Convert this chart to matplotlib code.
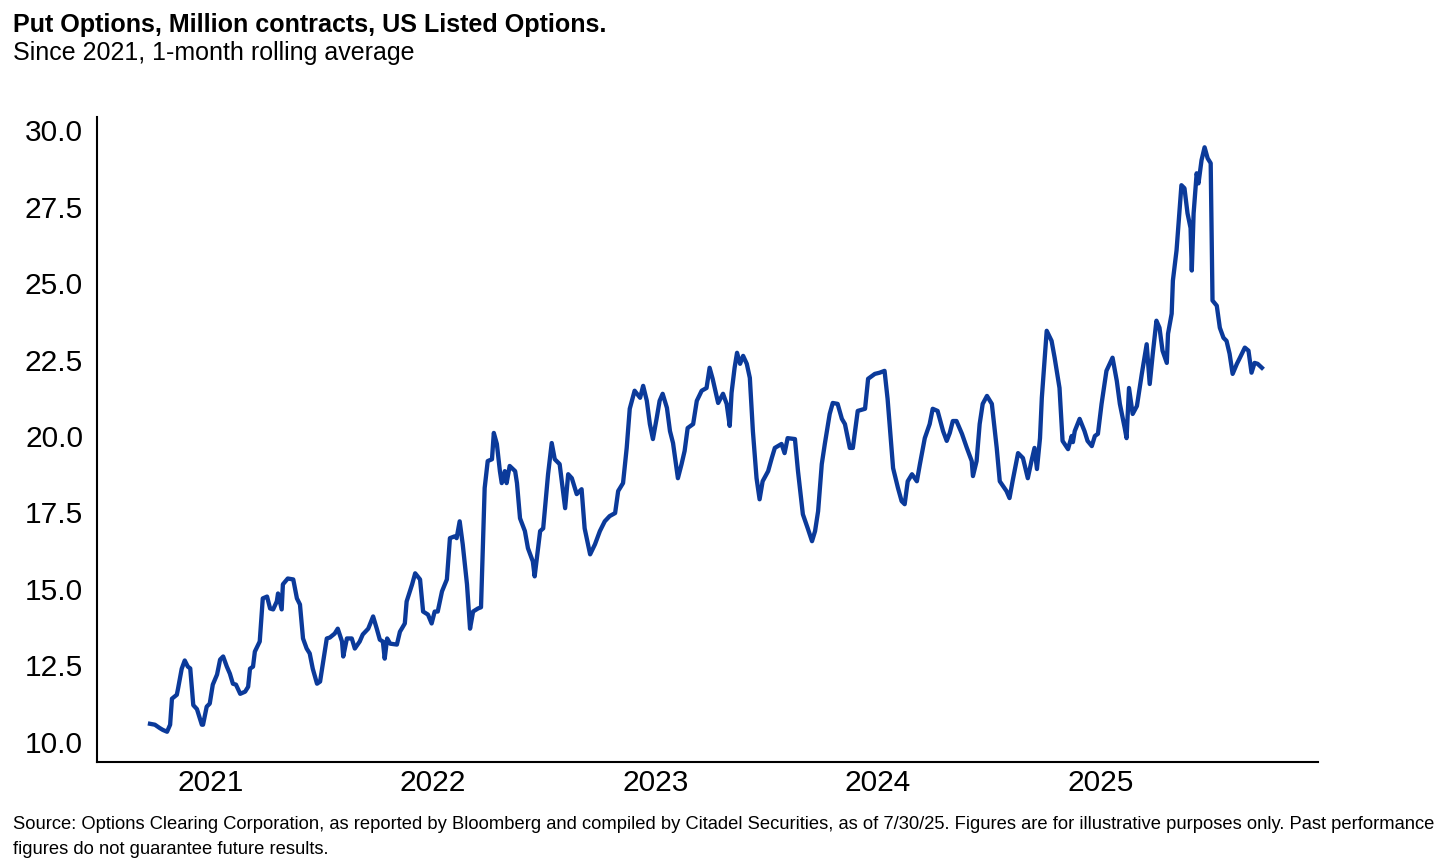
import numpy as np
import pandas as pd
import matplotlib
matplotlib.use("Agg")
import matplotlib.pyplot as plt
import matplotlib.dates as mdates

# days since first observation (2020-09-24) and 1-month rolling avg of put volume (mn contracts)
start_date = "2020-09-24"
days = [0, 8, 16, 21, 28, 33, 36, 44, 46, 52, 57, 62, 66, 71, 77, 85, 87, 93, 98, 103,
        110, 115, 120, 126, 131, 136, 141, 148, 156, 161, 164, 169, 172, 180, 185, 192, 197, 202, 208, 210,
        216, 218, 226, 235, 241, 246, 251, 257, 262, 267, 274, 279, 284, 290, 295, 303, 308, 315, 317, 323,
        331, 336, 344, 349, 358, 366, 372, 377, 382, 385, 389, 394, 405, 410, 418, 421, 430, 435, 443, 448,
        456, 462, 467, 472, 479, 487, 492, 500, 503, 508, 513, 520, 525, 530, 538, 543, 549, 554, 561, 564,
        569, 574, 577, 582, 585, 590, 599, 602, 607, 615, 620, 628, 631, 640, 645, 653, 659, 664, 672, 681,
        686, 692, 700, 708, 713, 722, 730, 738, 746, 754, 763, 768, 776, 782, 787, 795, 804, 809, 815, 820,
        825, 831, 836, 841, 848, 853, 858, 866, 872, 877, 882, 891, 897, 905, 913, 918, 923, 932, 940, 946,
        951, 954, 959, 963, 968, 973, 979, 984, 989, 995, 1000, 1005, 1014, 1020, 1025, 1036, 1041, 1046, 1058, 1063,
        1071, 1079, 1086, 1091, 1096, 1102, 1107, 1115, 1120, 1128, 1135, 1140, 1148, 1153, 1161, 1173, 1178, 1189, 1197, 1205,
        1210, 1219, 1227, 1233, 1238, 1243, 1250, 1258, 1263, 1271, 1279, 1284, 1292, 1301, 1307, 1312, 1317, 1323, 1332, 1340,
        1348, 1350, 1356, 1361, 1366, 1373, 1381, 1389, 1394, 1405, 1410, 1415, 1424, 1432, 1440, 1446, 1451, 1455, 1460, 1463,
        1471, 1479, 1484, 1492, 1497, 1506, 1512, 1514, 1517, 1525, 1533, 1538, 1545, 1550, 1555, 1561, 1569, 1579, 1586, 1591,
        1599, 1602, 1606, 1612, 1619, 1627, 1635, 1640, 1645, 1651, 1656, 1661, 1668, 1670, 1676, 1678, 1684, 1689, 1692, 1697,
        1702, 1707, 1709, 1712, 1717, 1720, 1725, 1730, 1735, 1740, 1743, 1750, 1755, 1761, 1766, 1771, 1776, 1783, 1788, 1796,
        1802, 1807, 1812, 1817, 1824]
puts = [10.59, 10.56, 10.45, 10.39, 10.33, 10.56, 11.41, 11.54, 11.74, 12.39, 12.66, 12.46, 12.40, 11.20, 11.07, 10.56, 10.56, 11.15, 11.25, 11.87,
        12.20, 12.69, 12.79, 12.46, 12.23, 11.90, 11.87, 11.57, 11.64, 11.80, 12.39, 12.46, 12.95, 13.28, 14.69, 14.75, 14.36, 14.33, 14.59, 14.85,
        14.33, 15.15, 15.34, 15.31, 14.69, 14.49, 13.38, 13.05, 12.89, 12.39, 11.90, 11.97, 12.62, 13.38, 13.41, 13.54, 13.70, 13.28, 12.79, 13.38,
        13.38, 13.05, 13.28, 13.51, 13.70, 14.10, 13.70, 13.34, 13.28, 12.72, 13.38, 13.21, 13.18, 13.60, 13.87, 14.59, 15.15, 15.51, 15.31, 14.26,
        14.16, 13.87, 14.26, 14.26, 14.92, 15.31, 16.66, 16.72, 16.66, 17.21, 16.46, 15.15, 13.70, 14.26, 14.36, 14.40, 18.30, 19.18, 19.24, 20.10,
        19.74, 18.85, 18.46, 18.85, 18.46, 19.02, 18.85, 18.46, 17.31, 16.89, 16.33, 15.90, 15.41, 16.89, 16.98, 18.75, 19.77, 19.24, 19.08, 17.64,
        18.75, 18.62, 18.10, 18.26, 16.98, 16.13, 16.46, 16.89, 17.21, 17.38, 17.48, 18.20, 18.46, 19.61, 20.89, 21.48, 21.25, 21.64, 21.15, 20.39,
        19.90, 20.56, 21.15, 21.38, 20.92, 20.16, 19.77, 18.62, 19.08, 19.51, 20.26, 20.39, 21.15, 21.48, 21.57, 22.23, 21.87, 21.08, 21.38, 21.05,
        20.33, 21.41, 22.23, 22.72, 22.36, 22.62, 22.36, 21.90, 20.16, 18.62, 17.93, 18.52, 18.85, 19.28, 19.61, 19.74, 19.44, 19.93, 19.90, 18.85,
        17.44, 16.98, 16.56, 16.89, 17.54, 19.08, 19.74, 20.72, 21.08, 21.05, 20.56, 20.39, 19.61, 19.61, 20.82, 20.89, 21.87, 22.03, 22.07, 22.13,
        21.21, 18.95, 18.30, 17.87, 17.77, 18.52, 18.75, 18.52, 19.08, 19.93, 20.39, 20.89, 20.82, 20.16, 19.84, 20.10, 20.49, 20.49, 20.07, 19.61,
        19.18, 18.69, 19.18, 20.39, 21.05, 21.31, 21.05, 19.61, 18.52, 18.20, 17.97, 18.52, 19.44, 19.28, 18.62, 19.18, 19.61, 18.92, 19.93, 21.25,
        23.44, 23.11, 22.56, 21.57, 19.84, 19.57, 20.00, 19.80, 20.16, 20.56, 20.16, 19.84, 19.67, 20.00, 20.07, 21.05, 22.13, 22.56, 21.80, 21.05,
        20.26, 19.93, 21.57, 20.72, 20.98, 22.03, 23.00, 21.70, 22.69, 23.77, 23.54, 22.79, 22.39, 23.34, 24.00, 25.08, 26.07, 27.38, 28.20, 28.10,
        27.28, 26.80, 25.41, 27.28, 28.59, 28.26, 29.02, 29.44, 29.08, 28.92, 24.43, 24.26, 23.54, 23.21, 23.11, 22.69, 22.03, 22.36, 22.56, 22.89,
        22.79, 22.07, 22.39, 22.36, 22.23]

y_ticks = [10.0, 12.5, 15.0, 17.5, 20.0, 22.5, 25.0, 27.5, 30.0]

title = "Put Options, Million contracts, US Listed Options."
subtitle = "Since 2021, 1-month rolling average"
source = ("Source: Options Clearing Corporation, as reported by Bloomberg and compiled by Citadel Securities, "
          "as of 7/30/25. Figures are for illustrative purposes only. Past performance\n"
          "figures do not guarantee future results.")

dates = pd.Timestamp(start_date) + pd.to_timedelta(days, unit="D")

plt.rcParams['font.family'] = ['Liberation Sans', 'DejaVu Sans']

fig = plt.figure(figsize=(14.56, 8.68), dpi=100)
ax = fig.add_axes([0.0666, 0.1221, 0.8386, 0.7431])

ax.plot(dates, puts, color='#0b3a9a', linewidth=3.1, solid_joinstyle='round')

ax.set_xlim(pd.Timestamp("2020-06-29"), pd.Timestamp("2025-12-23"))
ax.set_ylim(9.34, 30.43)
ax.set_yticks(y_ticks)
ax.yaxis.set_major_formatter(matplotlib.ticker.FormatStrFormatter('%.1f'))
ax.xaxis.set_major_locator(mdates.YearLocator())
ax.xaxis.set_major_formatter(mdates.DateFormatter('%Y'))

for s in ['top', 'right']:
    ax.spines[s].set_visible(False)
for s in ['left', 'bottom']:
    ax.spines[s].set_linewidth(1.5)
    ax.spines[s].set_color('black')
ax.tick_params(axis='both', length=0, labelsize=21.5, colors='black')
ax.tick_params(axis='y', pad=10)
ax.tick_params(axis='x', pad=5)

fig.text(0.009, 0.963, title, fontsize=18.1, fontweight='bold', va='baseline')
fig.text(0.009, 0.931, subtitle, fontsize=18, va='baseline')
fig.text(0.009, 0.016, source, fontsize=13.2, va='baseline', linespacing=1.6)

fig.savefig('out.png', dpi=100)
